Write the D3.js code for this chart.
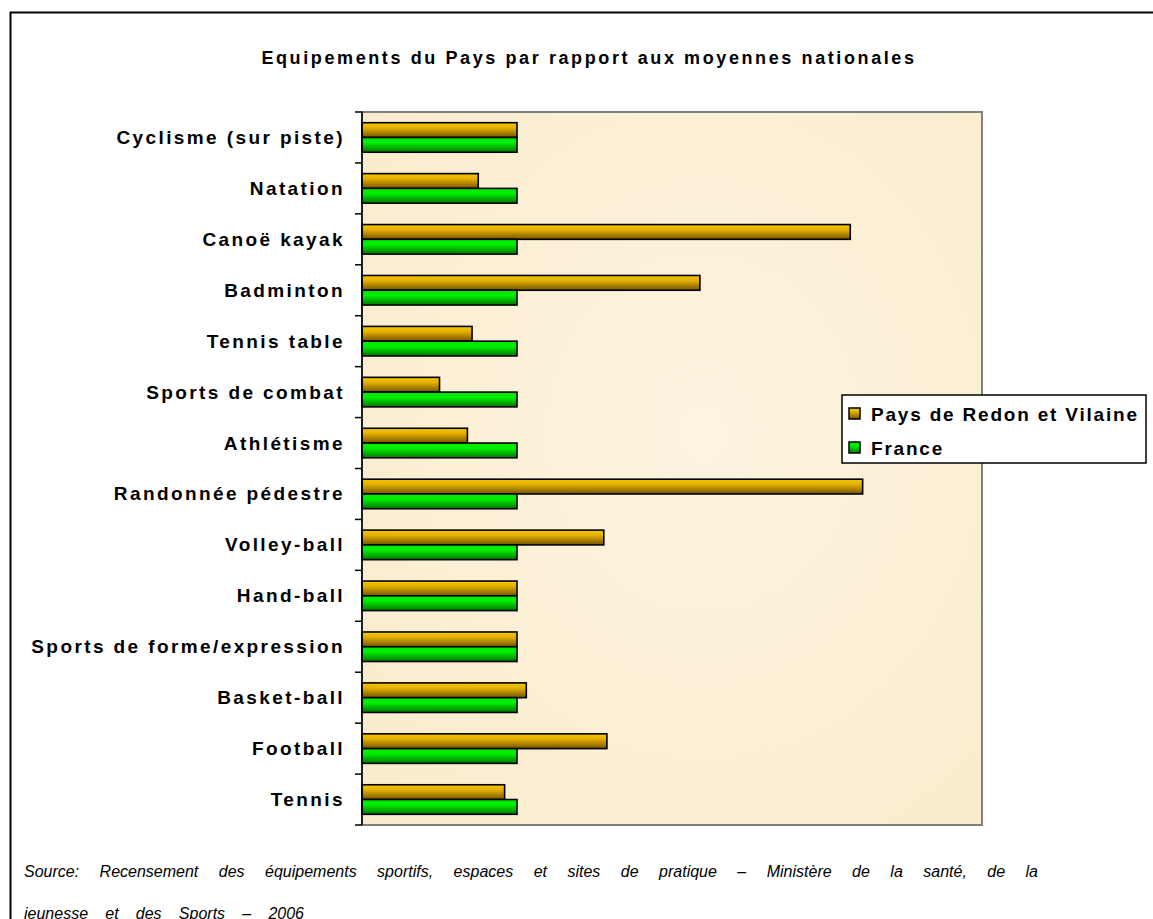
<!DOCTYPE html>
<html>
<head>
<meta charset="utf-8">
<title>Equipements du Pays</title>
<script src="https://cdn.jsdelivr.net/npm/d3@7"></script>
<style>
  html, body { margin: 0; padding: 0; background: #fff; overflow: hidden; }
  svg { display: block; font-family: "Liberation Sans", Arial, sans-serif; }
</style>
</head>
<body>
<div id="chart"></div>
<script>
const categories = [
  'Cyclisme (sur piste)', 'Natation', 'Canoë kayak', 'Badminton', 'Tennis table',
  'Sports de combat', 'Athlétisme', 'Randonnée pédestre', 'Volley-ball', 'Hand-ball',
  'Sports de forme/expression', 'Basket-ball', 'Football', 'Tennis'
];
const seriesNames = ['Pays de Redon et Vilaine', 'France'];
const redonValues = [1.0, 0.75, 3.15, 2.18, 0.71, 0.50, 0.68, 3.23, 1.56, 1.0, 1.0, 1.06, 1.58, 0.92];
const franceValues = [1, 1, 1, 1, 1, 1, 1, 1, 1, 1, 1, 1, 1, 1];
const xDomain = [0, 4];

const titleText = 'Equipements du Pays par rapport aux moyennes nationales';
const sourceLine1 = 'Source: Recensement des équipements sportifs, espaces et sites de pratique – Ministère de la santé, de la';
const sourceLine2 = 'jeunesse et des Sports – 2006';

class BarChart {
  constructor() {
    this.width = 1153;
    this.height = 919;
    this.plot = { left: 362, right: 982, top: 112, bottom: 825 };
    this.render();
  }

  render() {
    const svg = d3.select('#chart')
      .append('svg')
      .attr('width', this.width)
      .attr('height', this.height);

    this.addDefs(svg);

    // Outer frame (runs past the right and bottom edges)
    svg.append('rect')
      .attr('x', 10.5)
      .attr('y', 12.5)
      .attr('width', 1200)
      .attr('height', 1000)
      .attr('fill', '#fff')
      .attr('stroke', '#000')
      .attr('stroke-width', 2);

    svg.append('text')
      .attr('x', 589)
      .attr('y', 64)
      .attr('text-anchor', 'middle')
      .style('font-size', '18px')
      .style('font-weight', 'bold')
      .style('letter-spacing', '2.6px')
      .text(titleText);

    this.renderPlot(svg);
    this.renderLegend(svg);
    this.renderSource(svg);
  }

  addDefs(svg) {
    const defs = svg.append('defs');

    const orange = defs.append('linearGradient')
      .attr('id', 'grad-orange')
      .attr('x1', 0).attr('y1', 0).attr('x2', 0).attr('y2', 1);
    orange.append('stop').attr('offset', '0%').attr('stop-color', '#f6c800');
    orange.append('stop').attr('offset', '35%').attr('stop-color', '#e4b000');
    orange.append('stop').attr('offset', '100%').attr('stop-color', '#755400');

    const green = defs.append('linearGradient')
      .attr('id', 'grad-green')
      .attr('x1', 0).attr('y1', 0).attr('x2', 0).attr('y2', 1);
    green.append('stop').attr('offset', '0%').attr('stop-color', '#00e600');
    green.append('stop').attr('offset', '35%').attr('stop-color', '#00f000');
    green.append('stop').attr('offset', '100%').attr('stop-color', '#007400');

    const paper = defs.append('radialGradient')
      .attr('id', 'grad-paper')
      .attr('cx', '55%').attr('cy', '45%').attr('r', '75%');
    paper.append('stop').attr('offset', '0%').attr('stop-color', '#fdf4e0');
    paper.append('stop').attr('offset', '100%').attr('stop-color', '#f9ebcc');
  }

  renderPlot(svg) {
    const p = this.plot;

    const x = d3.scaleLinear()
      .domain(xDomain)
      .range([p.left, p.right]);

    const y = d3.scaleBand()
      .domain(categories)
      .range([p.top, p.bottom])
      .paddingInner(0.42)
      .paddingOuter(0.21);

    const sub = d3.scaleBand()
      .domain(seriesNames)
      .range([0, y.bandwidth()]);

    // band boundaries for the ticks
    const step = (p.bottom - p.top) / categories.length;

    svg.append('rect')
      .attr('x', p.left)
      .attr('y', p.top)
      .attr('width', p.right - p.left)
      .attr('height', p.bottom - p.top)
      .attr('fill', 'url(#grad-paper)')
      .attr('stroke', '#808080')
      .attr('stroke-width', 2);

    const rows = categories.map((c, i) => ({
      category: c,
      values: [redonValues[i], franceValues[i]]
    }));

    const group = svg.selectAll('.row')
      .data(rows)
      .enter()
      .append('g')
      .attr('class', 'row')
      .attr('transform', d => `translate(0,${y(d.category)})`);

    group.selectAll('rect')
      .data(d => d.values.map((v, j) => ({ name: seriesNames[j], value: v })))
      .enter()
      .append('rect')
      .attr('x', x(0))
      .attr('y', d => sub(d.name))
      .attr('width', d => x(d.value) - x(0))
      .attr('height', sub.bandwidth())
      .attr('fill', d => d.name === seriesNames[0] ? 'url(#grad-orange)' : 'url(#grad-green)')
      .attr('stroke', '#000')
      .attr('stroke-width', 1.6);

    // Category axis
    const axis = svg.append('g');
    axis.append('line')
      .attr('x1', p.left).attr('x2', p.left)
      .attr('y1', p.top).attr('y2', p.bottom)
      .attr('stroke', '#000')
      .attr('stroke-width', 1.5);

    axis.selectAll('.tick')
      .data(d3.range(categories.length + 1))
      .enter()
      .append('line')
      .attr('x1', p.left - 7).attr('x2', p.left)
      .attr('y1', i => p.top + i * step)
      .attr('y2', i => p.top + i * step)
      .attr('stroke', '#000')
      .attr('stroke-width', 1.5);

    axis.selectAll('.label')
      .data(categories)
      .enter()
      .append('text')
      .attr('x', 345)
      .attr('y', d => y(d) + y.bandwidth() / 2 + 6.5)
      .attr('text-anchor', 'end')
      .style('font-size', '19px')
      .style('font-weight', 'bold')
      .style('letter-spacing', '2.4px')
      .text(d => d);
  }

  renderLegend(svg) {
    const legend = svg.append('g').attr('transform', 'translate(842,395)');

    legend.append('rect')
      .attr('width', 304)
      .attr('height', 68)
      .attr('fill', '#fff')
      .attr('stroke', '#000')
      .attr('stroke-width', 1.5);

    const items = legend.selectAll('.item')
      .data(seriesNames)
      .enter()
      .append('g')
      .attr('class', 'item')
      .attr('transform', (d, i) => `translate(0,${19 + i * 34})`);

    items.append('rect')
      .attr('x', 7)
      .attr('y', -6)
      .attr('width', 11)
      .attr('height', 11)
      .attr('fill', (d, i) => i === 0 ? 'url(#grad-orange)' : 'url(#grad-green)')
      .attr('stroke', '#000')
      .attr('stroke-width', 1.5);

    items.append('text')
      .attr('x', 29)
      .attr('y', 7)
      .style('font-size', '19px')
      .style('font-weight', 'bold')
      .style('letter-spacing', '1.8px')
      .text(d => d);
  }

  renderSource(svg) {
    // justified lines: spread the extra room over the word gaps
    const justify = (text, x, y, width) => {
      const t = svg.append('text')
        .attr('x', x)
        .attr('y', y)
        .style('font-size', '16px')
        .style('font-style', 'italic')
        .text(text);
      const gaps = text.split(' ').length - 1;
      const extra = width - t.node().getComputedTextLength();
      if (gaps > 0 && extra > 0) t.style('word-spacing', `${extra / gaps}px`);
    };

    justify(sourceLine1, 24, 877, 1014);
    justify(sourceLine2, 24, 919, 280);
  }
}

document.addEventListener('DOMContentLoaded', () => {
  new BarChart();
});
</script>
</body>
</html>
